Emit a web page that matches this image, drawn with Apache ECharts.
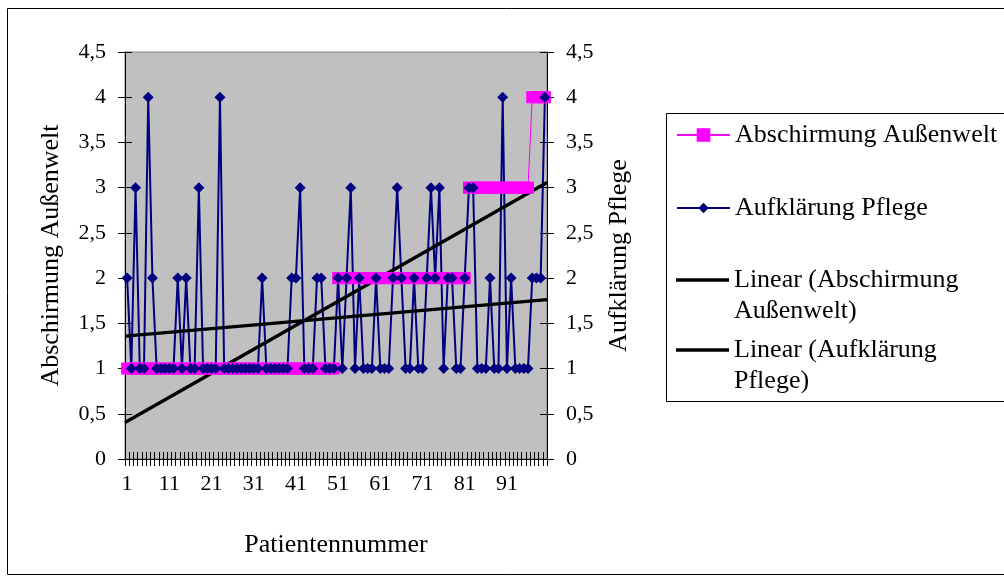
<!DOCTYPE html>
<html>
<head>
<meta charset="utf-8">
<script src="https://cdn.jsdelivr.net/npm/echarts@6/dist/echarts.min.js"></script>
<style>
  html, body { margin: 0; padding: 0; background: #ffffff; }
  #chart { width: 1004px; height: 580px; }
</style>
</head>
<body>
<div id="chart"></div>
<script>
// Patient numbers 1..100 on the category axis
const patients = Array.from({ length: 100 }, (_, i) => String(i + 1));

// Abschirmung Außenwelt (primary axis)
const abschirmung = [
  1, 1, 1, 1, 1, 1, 1, 1, 1, 1,
  1, 1, 1, 1, 1, 1, 1, 1, 1, 1,
  1, 1, 1, 1, 1, 1, 1, 1, 1, 1,
  1, 1, 1, 1, 1, 1, 1, 1, 1, 1,
  1, 1, 1, 1, 1, 1, 1, 1, 1, 1,
  2, 2, 2, 2, 2, 2, 2, 2, 2, 2,
  2, 2, 2, 2, 2, 2, 2, 2, 2, 2,
  2, 2, 2, 2, 2, 2, 2, 2, 2, 2,
  2, 3, 3, 3, 3, 3, 3, 3, 3, 3,
  3, 3, 3, 3, 3, 3, 4, 4, 4, 4
];

// Aufklärung Pflege (secondary axis)
const aufklaerung = [
  2, 1, 3, 1, 1, 4, 2, 1, 1, 1,
  1, 1, 2, 1, 2, 1, 1, 3, 1, 1,
  1, 1, 4, 1, 1, 1, 1, 1, 1, 1,
  1, 1, 2, 1, 1, 1, 1, 1, 1, 2,
  2, 3, 1, 1, 1, 2, 2, 1, 1, 1,
  2, 1, 2, 3, 1, 2, 1, 1, 1, 2,
  1, 1, 1, 2, 3, 2, 1, 1, 2, 1,
  1, 2, 3, 2, 3, 1, 2, 2, 1, 1,
  2, 3, 3, 1, 1, 1, 2, 1, 1, 4,
  1, 2, 1, 1, 1, 1, 2, 2, 2, 4
];

// Value-axis ticks, German decimal comma
const valueTicks = ['0', '0,5', '1', '1,5', '2', '2,5', '3', '3,5', '4', '4,5'];

const seriesNames = {
  a: 'Abschirmung Außenwelt',
  b: 'Aufklärung Pflege',
  ta: 'Linear (Abschirmung Außenwelt)',
  tb: 'Linear (Aufklärung Pflege)'
};

// Least-squares line over the patient index, evaluated across the
// full width of the plot (category edges 0.5 .. n + 0.5)
function linearTrend(values) {
  const n = values.length;
  let sx = 0, sy = 0, sxx = 0, sxy = 0;
  values.forEach((y, i) => {
    const x = i + 1;
    sx += x; sy += y; sxx += x * x; sxy += x * y;
  });
  const slope = (n * sxy - sx * sy) / (n * sxx - sx * sx);
  const icpt = (sy - slope * sx) / n;
  return [0.5, n + 0.5].map(x => [x, slope * x + icpt]);
}

const FONT = "'Liberation Serif', 'Times New Roman', serif";
const TICK_SIZE = 22;
const TITLE_SIZE = 26;
const LEGEND_SIZE = 26;

function tickLabel(v) {
  return valueTicks[Math.round(v / 0.5)] ?? '';
}

const valueAxisBase = {
  type: 'value',
  min: 0,
  max: 4.5,
  interval: 0.5,
  splitLine: { show: false }
};

// plain bar used as the legend key of the trend lines
const TREND_ICON = 'path://M0,0 L53,0 L53,3.4 L0,3.4 Z';

const legendBase = {
  orient: 'vertical',
  left: 676,
  padding: 0,
  itemGap: 0,
  itemWidth: 53,
  itemHeight: 14,
  selectedMode: false,
  textStyle: { fontFamily: FONT, fontSize: LEGEND_SIZE, lineHeight: 31, color: '#000' },
  formatter: function (name) {
    // leading blank line keeps the first text line level with the key
    if (name === seriesNames.ta) return '\nLinear (Abschirmung\nAußenwelt)';
    if (name === seriesNames.tb) return '\nLinear (Aufklärung\nPflege)';
    return name;
  }
};

const chart = echarts.init(document.getElementById('chart'), null, { renderer: 'canvas' });

chart.setOption({
  backgroundColor: '#ffffff',
  animation: false,
  textStyle: { fontFamily: FONT, color: '#000' },
  grid: {
    left: 125, right: 457, top: 52, bottom: 121,
    show: true,
    backgroundColor: '#C0C0C0',
    borderColor: '#808080',
    borderWidth: 1
  },
  graphic: [
    {
      type: 'rect', silent: true, z: -1,
      shape: { x: 7.5, y: 8.5, width: 1000, height: 566 },
      style: { fill: null, stroke: '#000', lineWidth: 1 }
    },
    {
      type: 'rect', silent: true,
      shape: { x: 666.5, y: 113.5, width: 345, height: 288 },
      style: { fill: '#fff', stroke: '#000', lineWidth: 1 },
      z: 0
    }
  ],
  legend: [
    Object.assign({}, legendBase, { top: 119.5, itemHeight: 17, data: [{ name: seriesNames.a }] }),
    Object.assign({}, legendBase, { top: 192.5, itemHeight: 13, data: [{ name: seriesNames.b }] }),
    Object.assign({}, legendBase, { top: 233.5, data: [{ name: seriesNames.ta, icon: TREND_ICON }] }),
    Object.assign({}, legendBase, { top: 303.5, data: [{ name: seriesNames.tb, icon: TREND_ICON }] })
  ],
  xAxis: [
    {
      type: 'category',
      data: patients,
      boundaryGap: true,
      name: 'Patientennummer',
      nameLocation: 'middle',
      nameGap: 73,
      nameTextStyle: { fontFamily: FONT, fontSize: TITLE_SIZE, color: '#000' },
      axisLine: { lineStyle: { color: '#000', width: 1 } },
      axisTick: { show: true, interval: 0, length: 7, lineStyle: { color: '#000' } },
      axisLabel: { interval: 9, margin: 14, fontFamily: FONT, fontSize: TICK_SIZE, color: '#000' },
      splitLine: { show: false }
    },
    {
      // inner half of the crossing tick marks
      type: 'category',
      data: patients,
      boundaryGap: true,
      position: 'bottom',
      axisLine: { show: false },
      axisTick: { show: true, inside: true, interval: 0, length: 7, lineStyle: { color: '#000' } },
      axisLabel: { show: false },
      splitLine: { show: false }
    },
    {
      // continuous patient index used by the trend lines
      type: 'value',
      min: 0.5,
      max: patients.length + 0.5,
      show: false
    }
  ],
  yAxis: [
    Object.assign({}, valueAxisBase, {
      position: 'left',
      name: seriesNames.a,
      nameLocation: 'middle',
      nameRotate: 90,
      nameGap: 61,
      nameTextStyle: { fontFamily: FONT, fontSize: TITLE_SIZE, color: '#000' },
      axisLine: { show: true, lineStyle: { color: '#000', width: 1 } },
      axisTick: { show: true, length: 7, lineStyle: { color: '#000' } },
      axisLabel: { margin: 19, fontFamily: FONT, fontSize: TICK_SIZE, color: '#000', formatter: tickLabel }
    }),
    Object.assign({}, valueAxisBase, {
      position: 'right',
      name: seriesNames.b,
      nameLocation: 'middle',
      nameRotate: 90,
      nameGap: 59,
      nameTextStyle: { fontFamily: FONT, fontSize: TITLE_SIZE, color: '#000' },
      axisLine: { show: true, lineStyle: { color: '#000', width: 1 } },
      axisTick: { show: true, length: 7, lineStyle: { color: '#000' } },
      axisLabel: { margin: 19, fontFamily: FONT, fontSize: TICK_SIZE, color: '#000', formatter: tickLabel }
    }),
    Object.assign({}, valueAxisBase, {
      position: 'left',
      axisLine: { show: false },
      axisTick: { show: true, inside: true, length: 7, lineStyle: { color: '#000' } },
      axisLabel: { show: false }
    }),
    Object.assign({}, valueAxisBase, {
      position: 'right',
      axisLine: { show: false },
      axisTick: { show: true, inside: true, length: 7, lineStyle: { color: '#000' } },
      axisLabel: { show: false }
    })
  ],
  series: [
    {
      name: seriesNames.a,
      type: 'line',
      xAxisIndex: 0,
      yAxisIndex: 0,
      data: abschirmung,
      symbol: 'rect',
      symbolSize: 12,
      showAllSymbol: true,
      color: '#FF00FF',
      lineStyle: { color: '#FF00FF', width: 1 },
      itemStyle: { color: '#FF00FF' }
    },
    {
      name: seriesNames.b,
      type: 'line',
      xAxisIndex: 0,
      yAxisIndex: 1,
      data: aufklaerung,
      symbol: 'diamond',
      symbolSize: 11,
      showAllSymbol: true,
      color: '#000080',
      lineStyle: { color: '#000080', width: 2 },
      itemStyle: { color: '#000080' }
    },
    {
      name: seriesNames.ta,
      type: 'line',
      xAxisIndex: 2,
      yAxisIndex: 0,
      data: linearTrend(abschirmung),
      symbol: 'none',
      color: '#000',
      lineStyle: { color: '#000', width: 3.3 }
    },
    {
      name: seriesNames.tb,
      type: 'line',
      xAxisIndex: 2,
      yAxisIndex: 1,
      data: linearTrend(aufklaerung),
      symbol: 'none',
      color: '#000',
      lineStyle: { color: '#000', width: 3.3 }
    }
  ]
});
</script>
</body>
</html>
